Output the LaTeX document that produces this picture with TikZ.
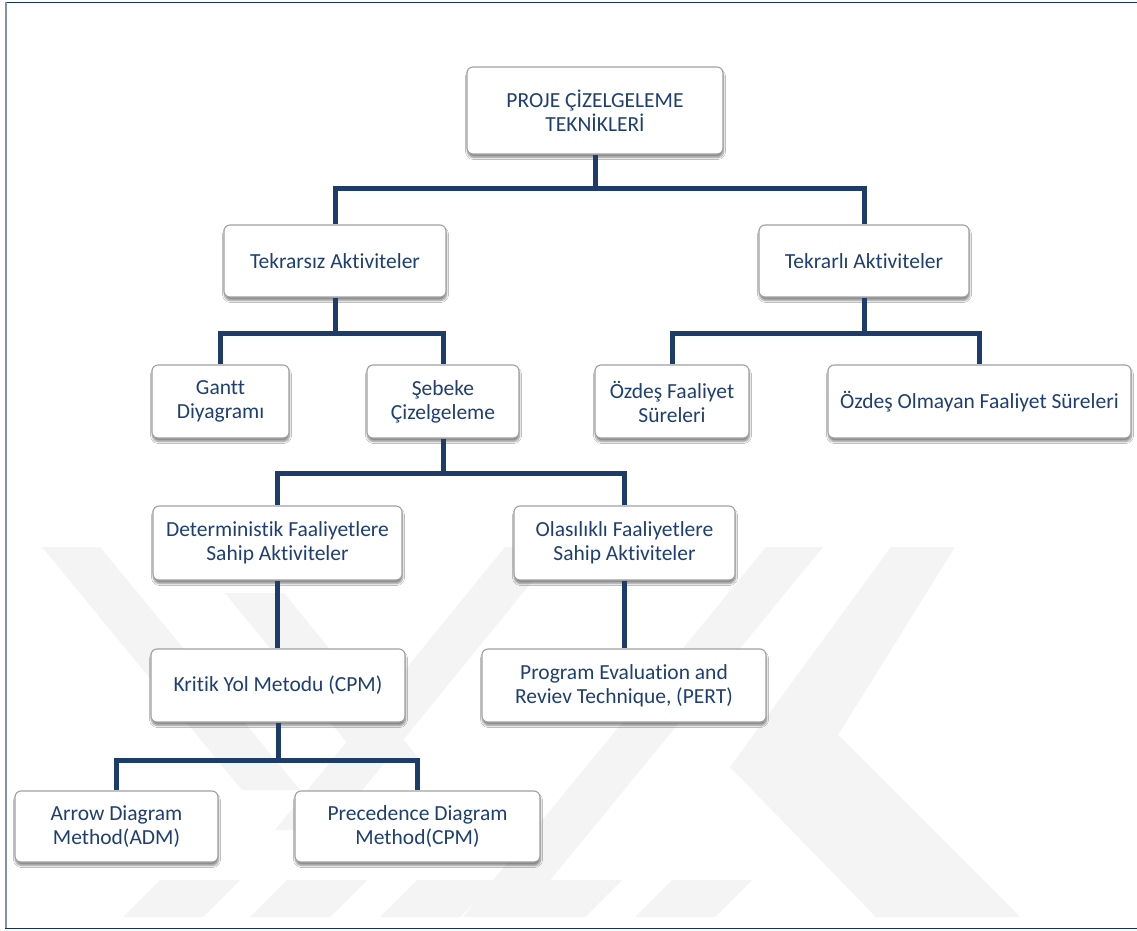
\documentclass[tikz,border=0pt]{standalone}
\usepackage{fontspec}
\setmainfont{Carlito}[Ligatures={NoCommon}]
\usetikzlibrary{shadows.blur}
\definecolor{txtblue}{RGB}{31,63,115}
\definecolor{linenavy}{RGB}{30,60,105}
\definecolor{framenavy}{RGB}{20,45,100}
\definecolor{frameside}{RGB}{130,145,180}
\definecolor{boxedge}{RGB}{160,160,160}
\definecolor{wm}{RGB}{244,244,244}
\tikzset{
  box/.style={draw=boxedge, line width=1.1pt, fill=white, rounded corners=6pt,
    align=center, text=txtblue, inner sep=2pt,
    font=\fontsize{21.5}{24}\selectfont,
    blur shadow={shadow xshift=0.5pt, shadow yshift=-3.5pt, shadow blur steps=6, shadow opacity=45}},
  conn/.style={draw=linenavy, line width=5pt},
  wmark/.style={fill=wm, draw=none}
}
\begin{document}
\begin{tikzpicture}[x=1pt, y=-1pt]
\useasboundingbox (0,0) rectangle (1137,931);
\fill[white] (0,0) rectangle (1137,931);
% watermark
\fill[wmark] (42,547) -- (100,547) -- (300,790) -- (242,790) -- cycle;
\fill[wmark] (225,593) -- (284,593) -- (420,760) -- (361,760) -- cycle;
\fill[wmark] (505,547) -- (560,547) -- (330,830) -- (275,830) -- cycle;
\fill[wmark] (766,547) -- (823,547) -- (520,917) -- (463,917) -- cycle;
\fill[wmark] (891,547) -- (955,547) -- (838,735) -- (1020,917) -- (876,917) -- (730,767) -- cycle;
\foreach \b in {123,250,380,505,635}{
  \fill[wmark] (\b,917) -- (\b+80,917) -- (\b+117,880) -- (\b+37,880) -- cycle;
}
% frame
\draw[framenavy, line width=1.6pt] (5,2.5) -- (1137,2.5);
\draw[frameside, line width=2pt] (6,2) -- (6,928);
\draw[framenavy, line width=1.6pt] (5,928.5) -- (1137,928.5);
% nodes
\node[box, minimum width=256pt, minimum height=87pt] (root) at (595,110.5) {PROJE ÇİZELGELEME\\TEKNİKLERİ};
\node[box, minimum width=222pt, minimum height=72pt] (t1) at (335,261) {Tekrarsız Aktiviteler};
\node[box, minimum width=210pt, minimum height=72pt] (t2) at (864,261) {Tekrarlı Aktiviteler};
\node[box, minimum width=137pt, minimum height=73pt] (g) at (220.5,401.5) {Gantt\\Diyagramı};
\node[box, minimum width=152pt, minimum height=73pt] (s) at (443,401.5) {Şebeke\\Çizelgeleme};
\node[box, minimum width=154pt, minimum height=73pt] (o1) at (672,401.5) {Özdeş Faaliyet\\Süreleri};
\node[box, minimum width=303pt, minimum height=73pt] (o2) at (979.5,401.5) {Özdeş Olmayan Faaliyet Süreleri};
\node[box, minimum width=249pt, minimum height=74pt] (d) at (277.5,543) {Deterministik Faaliyetlere\\Sahip Aktiviteler};
\node[box, minimum width=221pt, minimum height=74pt] (p) at (624.5,543) {Olasılıklı Faaliyetlere\\Sahip Aktiviteler};
\node[box, minimum width=254pt, minimum height=73pt] (k) at (278,685.5) {Kritik Yol Metodu (CPM)};
\node[box, minimum width=284pt, minimum height=73pt] (pe) at (624,685.5) {Program Evaluation and\\Reviev Technique, (PERT)};
\node[box, minimum width=203pt, minimum height=71pt] (a) at (116.5,826.5) {Arrow Diagram\\Method(ADM)};
\node[box, minimum width=245pt, minimum height=71pt] (pr) at (417.5,826.5) {Precedence Diagram\\Method(CPM)};
% connectors
\draw[conn] (root.south) -- (root.south |- 0,188) -| (t1.north);
\draw[conn] (root.south |- 0,188) -| (t2.north);
\draw[conn] (t1.south) -- (t1.south |- 0,333) -| (g.north);
\draw[conn] (t1.south |- 0,333) -| (s.north);
\draw[conn] (t2.south) -- (t2.south |- 0,333) -| (o1.north);
\draw[conn] (t2.south |- 0,333) -| (o2.north);
\draw[conn] (s.south) -- (s.south |- 0,473) -| (d.north);
\draw[conn] (s.south |- 0,473) -| (p.north);
\draw[conn] (d.south) -- (d.south |- k.north);
\draw[conn] (p.south) -- (p.south |- pe.north);
\draw[conn] (k.south) -- (k.south |- 0,760) -| (a.north);
\draw[conn] (k.south |- 0,760) -| (pr.north);
\end{tikzpicture}
\end{document}
